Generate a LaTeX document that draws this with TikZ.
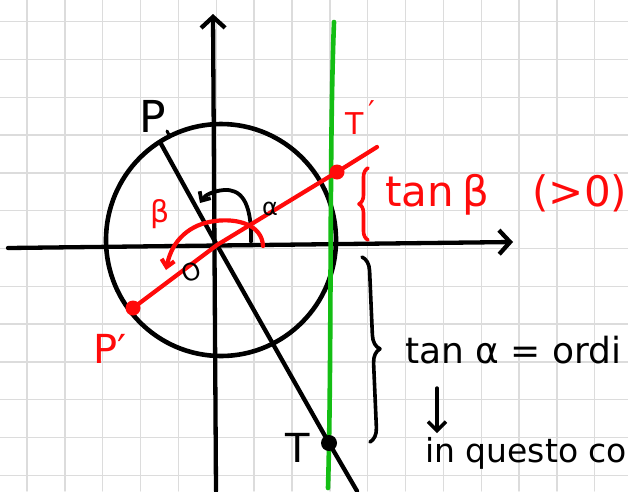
\documentclass[tikz,border=0pt]{standalone}
\usepackage{fontspec}
\setmainfont{DejaVu Sans}
\usetikzlibrary{arrows.meta,decorations.pathreplacing}
\definecolor{redpen}{RGB}{255,10,10}
\definecolor{greenpen}{RGB}{20,190,20}
\definecolor{gridc}{RGB}{220,220,220}
\begin{document}
\begin{tikzpicture}[x=1pt,y=-1pt,line cap=round,line join=round,
  ink/.style={draw=black,line width=4.3pt},
  redink/.style={draw=redpen,line width=4.2pt},
  greenink/.style={draw=greenpen,line width=4.6pt},
  gridline/.style={draw=gridc,line width=1.4pt},
  axisarrow/.style={-{Straight Barb[length=11pt,width=24pt]}},
  smallarrow/.style={-{Straight Barb[length=7pt,width=13pt]}},
  lbl/.style={inner sep=0pt,anchor=base},
  bracedeco/.style={decorate,decoration={brace,amplitude=#1}}
]
\useasboundingbox (0,0) rectangle (628,491);
\fill[white] (0,0) rectangle (628,491);
\begin{scope}
\clip (0,0) rectangle (628,491);
% grid
\foreach \k in {0,...,15} \draw[gridline] ({27+37.85*\k},0) -- ({27+37.85*\k},491);
\foreach \k in {0,...,12} \draw[gridline] (0,{21.7+37.8*\k}) -- (628,{21.7+37.8*\k});
% key points
\coordinate (C) at (221,240);
\coordinate (O) at (217,245);
\coordinate (P) at (160,142);
\coordinate (Pend) at (357,491);
\coordinate (Pp) at (133,308);
\coordinate (Tp) at (337,172);
\coordinate (Rend) at (377,147);
\coordinate (T) at (329,443);
\coordinate (xs) at (8,248);
\coordinate (xe) at (513,242);
\coordinate (ys) at (216,491);
\coordinate (ye) at (213,14);
\coordinate (gs) at (334,22);
\coordinate (ge) at (328,488);
% circle
\draw[ink,line width=4.6pt] (C) ellipse [x radius=115pt, y radius=116pt];
% axes
\draw[ink,axisarrow] (xs) -- (xe);
\draw[ink,axisarrow] (ys) -- (ye);
% green tangent line
\draw[greenink] (gs) .. controls (329,150) and (332,350) .. (ge);
% black line through P and T
\draw[ink] (P) -- (O) -- (T) -- (Pend);
\draw[ink,line width=3pt] (167,131) -- (170,137);
\fill (T) circle[radius=8pt];
% alpha arc
\draw[ink,line width=3.8pt,smallarrow] (251,242) .. controls (252,200) and (240,189) .. (224,190) .. controls (213,191) and (205,195) .. (200,203);
% red line
\draw[redink] (Pp) -- (O) -- (Tp) -- (Rend);
\fill[redpen] (Pp) circle[radius=7.5pt];
\fill[redpen] (Tp) circle[radius=7.5pt];
% beta arc
\draw[redink,smallarrow] (263,246) .. controls (262,225) and (238,218) .. (215,221) .. controls (190,224) and (172,240) .. (166,270);
% braces
\coordinate (rb1) at (368,240);
\coordinate (rb2) at (368,168);
\draw[redink,line width=3.6pt,bracedeco=9pt] (rb1) -- (rb2);
\coordinate (bb1) at (362,257);
\coordinate (bb2) at (370,442);
\draw[ink,line width=3.6pt,bracedeco=14pt] (bb1) -- (bb2);
% down arrow
\coordinate (da1) at (437,388);
\coordinate (da2) at (437,433);
\draw[ink,line width=3.4pt,-{Straight Barb[length=9pt,width=18pt]}] (da1) -- (da2);
% labels
\node[lbl,font=\fontsize{44}{44}\selectfont] (labP) at (153,132) {P};
\node[lbl,font=\fontsize{40}{40}\selectfont] (labT) at (298,462) {T};
\node[lbl,font=\fontsize{40}{40}\selectfont,text=redpen] (labPp) at (110,363) {P′};
\node[lbl,anchor=base west,font=\fontsize{30}{30}\selectfont,text=redpen] (labTp) at (345,134) {T\hspace{5pt}\raisebox{12pt}{′}};
\node[font=\fontsize{24}{24}\selectfont,inner sep=0pt] (laba) at (270,209) {α};
\node[font=\fontsize{30}{30}\selectfont,inner sep=0pt,text=redpen] (labb) at (160,214) {β};
\node[font=\fontsize{24}{24}\selectfont,inner sep=0pt,rotate=20] (labO) at (191,272) {O};
\node[lbl,anchor=base west,font=\fontsize{42}{42}\selectfont,text=redpen] (tanb) at (385,206) {tan\hspace{-5pt} β\hspace{30pt} (>0)};
\node[lbl,anchor=base west,font=\fontsize{36}{36}\selectfont] (tana) at (405,363) {tan α = ordi};
\node[lbl,anchor=base west,font=\fontsize{33}{33}\selectfont] (inq) at (425,462) {in questo co};
\end{scope}
\end{tikzpicture}
\end{document}
